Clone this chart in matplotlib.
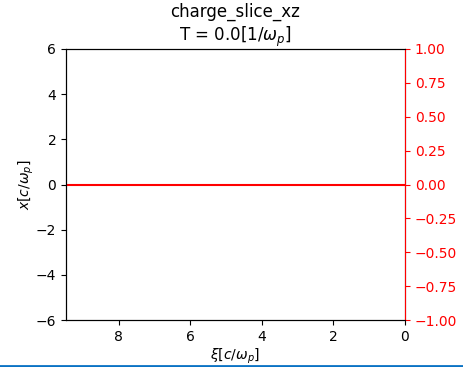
import matplotlib
matplotlib.use("Agg")
import matplotlib.pyplot as plt
from matplotlib.lines import Line2D

# Data: on-axis electric field along xi (flat zero at T = 0)
xi = [0.0, 9.48]
field = [0.0, 0.0]

x_ticks = [8, 6, 4, 2, 0]
y_ticks = [-6, -4, -2, 0, 2, 4, 6]
e_ticks = [-1.0, -0.75, -0.5, -0.25, 0.0, 0.25, 0.5, 0.75, 1.0]

fig, ax = plt.subplots(figsize=(4.64, 3.67), dpi=100)
fig.subplots_adjust(left=66 / 464, right=405 / 464, top=1 - 49 / 367, bottom=1 - 320 / 367)

ax.set_xlim(9.48, 0)
ax.set_ylim(-6, 6)
ax.set_xticks(x_ticks)
ax.set_yticks(y_ticks)
ax.set_xlabel(r"$\xi[c/\omega_p]$", labelpad=2)
ax.set_ylabel(r"$x[c/\omega_p]$", labelpad=0)
ax.set_title("charge_slice_xz\n" + r"T = 0.0[1/$\omega_p$]")

ax2 = ax.twinx()
ax2.plot(xi, field, color="red", linewidth=1.5)
ax2.set_ylim(-1, 1)
ax2.set_yticks(e_ticks)
ax2.set_ylabel(r"$ElectricField[mc\omega_p/e]$", color="red")
ax2.tick_params(axis="y", colors="red")
ax2.spines["right"].set_color("red")

# blue border line at the bottom of the screenshot
fig.add_artist(Line2D([0, 1], [0.004, 0.004], transform=fig.transFigure,
                      color="#0a72c4", linewidth=2))

fig.savefig("out.png", dpi=100)
